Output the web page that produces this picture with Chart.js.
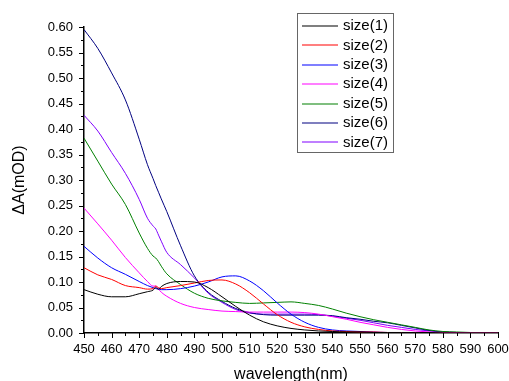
<!DOCTYPE html>
<html>
<head>
<meta charset="utf-8">
<script src="https://cdn.jsdelivr.net/npm/chart.js@4/dist/chart.umd.min.js"></script>
<style>
  html, body { margin: 0; padding: 0; background: #fff; }
  #wrap { width: 509px; height: 381px; }
</style>
</head>
<body>
<div id="wrap"><canvas id="specChart" width="509" height="381"></canvas></div>
<script>
// wavelength (nm)
const wavelengths = [450, 455, 460, 465, 470, 473, 475, 476, 477, 478, 480, 485, 490, 495, 500, 505, 510, 515, 520, 525, 530, 535, 540, 545, 550, 555, 560, 565, 570, 575, 580, 585, 590, 595, 600];

const size1 = [0.085, 0.076, 0.071, 0.071, 0.077, 0.081, 0.084, 0.089, 0.086, 0.091, 0.097, 0.101, 0.100, 0.089, 0.071, 0.052, 0.035, 0.022, 0.014, 0.009, 0.006, 0.004, 0.003, 0.002, 0.002, 0.001, 0.001, 0.001, 0.001, 0.001, 0.000, 0.000, 0.000, 0.000, 0.000];
const size2 = [0.128, 0.114, 0.105, 0.093, 0.089, 0.086, 0.087, 0.092, 0.089, 0.087, 0.089, 0.093, 0.098, 0.103, 0.104, 0.096, 0.079, 0.057, 0.036, 0.021, 0.012, 0.007, 0.004, 0.003, 0.002, 0.002, 0.001, 0.001, 0.001, 0.000, 0.000, 0.000, 0.000, 0.000, 0.000];
const size3 = [0.170, 0.147, 0.128, 0.115, 0.101, 0.093, 0.089, 0.087, 0.086, 0.085, 0.085, 0.087, 0.092, 0.100, 0.110, 0.112, 0.102, 0.083, 0.059, 0.037, 0.021, 0.011, 0.006, 0.004, 0.003, 0.002, 0.001, 0.001, 0.001, 0.000, 0.000, 0.000, 0.000, 0.000, 0.000];
const size4 = [0.245, 0.214, 0.182, 0.148, 0.118, 0.101, 0.092, 0.092, 0.086, 0.080, 0.072, 0.058, 0.050, 0.046, 0.043, 0.042, 0.041, 0.041, 0.041, 0.041, 0.040, 0.037, 0.032, 0.027, 0.021, 0.016, 0.011, 0.007, 0.004, 0.002, 0.001, 0.001, 0.000, 0.000, 0.000];
const size5 = [0.382, 0.337, 0.292, 0.252, 0.196, 0.166, 0.151, 0.147, 0.140, 0.131, 0.116, 0.095, 0.078, 0.068, 0.063, 0.060, 0.058, 0.059, 0.060, 0.061, 0.058, 0.054, 0.047, 0.039, 0.032, 0.026, 0.021, 0.016, 0.011, 0.006, 0.003, 0.002, 0.001, 0.000, 0.000];
const size6 = [0.595, 0.558, 0.510, 0.457, 0.380, 0.330, 0.303, 0.289, 0.276, 0.263, 0.238, 0.171, 0.112, 0.080, 0.062, 0.048, 0.040, 0.036, 0.035, 0.035, 0.035, 0.035, 0.034, 0.030, 0.027, 0.023, 0.020, 0.015, 0.010, 0.005, 0.002, 0.001, 0.001, 0.000, 0.000];
const size7 = [0.427, 0.396, 0.354, 0.313, 0.262, 0.225, 0.210, 0.204, 0.192, 0.180, 0.158, 0.134, 0.108, 0.078, 0.060, 0.046, 0.039, 0.037, 0.037, 0.037, 0.037, 0.036, 0.033, 0.029, 0.025, 0.020, 0.015, 0.011, 0.007, 0.004, 0.002, 0.001, 0.000, 0.000, 0.000];

const seriesNames = ['size(1)', 'size(2)', 'size(3)', 'size(4)', 'size(5)', 'size(6)', 'size(7)'];
const seriesColors = ['#000000', '#ff0000', '#0000ff', '#ff00ff', '#008000', '#000080', '#8000ff'];
const seriesValues = [size1, size2, size3, size4, size5, size6, size7];

const FONT = '"Liberation Sans", Arial, sans-serif';

// origin-style ticks: major + minor, drawn outward
const tickPlugin = {
    id: 'originTicks',
    afterDraw(chart) {
        const ctx = chart.ctx;
        const xs = chart.scales.x, ys = chart.scales.y;
        ctx.save();
        ctx.strokeStyle = '#000';
        ctx.lineWidth = 1;
        ctx.beginPath();
        xs.ticks.forEach((t, i) => {
            const px = Math.round(xs.getPixelForValue(t.value)) + 0.5;
            const len = i % 2 === 0 ? 5 : 3;
            ctx.moveTo(px, ys.bottom);
            ctx.lineTo(px, ys.bottom + len);
        });
        ys.ticks.forEach((t, i) => {
            const py = Math.round(ys.getPixelForValue(t.value)) + 0.5;
            const len = i % 2 === 0 ? 5 : 3;
            ctx.moveTo(xs.left, py);
            ctx.lineTo(xs.left - len, py);
        });
        ctx.stroke();
        ctx.restore();
    }
};

// legend box drawn in the upper right, like the original
const legendPlugin = {
    id: 'boxLegend',
    afterDraw(chart) {
        const ctx = chart.ctx;
        const x0 = 297, y0 = 13, w = 96, h = 139;
        ctx.save();
        ctx.fillStyle = '#fff';
        ctx.fillRect(x0, y0, w, h);
        ctx.strokeStyle = '#666';
        ctx.lineWidth = 1;
        ctx.strokeRect(x0 + 0.5, y0 + 0.5, w, h);
        ctx.font = '15px ' + FONT;
        ctx.textBaseline = 'middle';
        chart.data.datasets.forEach((ds, i) => {
            const cy = y0 + 13 + i * 19.4;
            ctx.strokeStyle = seriesColors[i];
            ctx.lineWidth = 1.2;
            ctx.beginPath();
            ctx.moveTo(x0 + 5, Math.round(cy));
            ctx.lineTo(x0 + 41, Math.round(cy));
            ctx.stroke();
            ctx.fillStyle = '#000';
            ctx.fillText(ds.label, x0 + 46, cy);
        });
        ctx.restore();
    }
};

const ctx = document.getElementById('specChart').getContext('2d');
new Chart(ctx, {
    type: 'line',
    data: {
        labels: wavelengths,
        datasets: seriesValues.map((vals, i) => ({
            label: seriesNames[i],
            data: wavelengths.map((w, j) => ({ x: w, y: vals[j] })),
            borderColor: seriesColors[i],
            borderWidth: 1,
            pointRadius: 0,
            fill: false,
            cubicInterpolationMode: 'monotone'
        }))
    },
    options: {
        responsive: false,
        animation: false,
        layout: { padding: { top: 27, right: 0, left: 0, bottom: 0 } },
        plugins: {
            legend: { display: false },
            tooltip: { enabled: false }
        },
        scales: {
            x: {
                type: 'linear',
                min: 450,
                max: 600,
                afterFit: s => { s.height = 48; s.paddingRight = 11; },
                grid: { display: false, drawTicks: false },
                border: { display: true, color: '#000', width: 1.5 },
                ticks: {
                    stepSize: 5,
                    autoSkip: false,
                    maxRotation: 0,
                    padding: 9,
                    color: '#000',
                    font: { family: FONT, size: 13 },
                    callback: (v, i) => (i % 2 === 0 ? String(v) : '')
                },
                title: {
                    display: true,
                    text: 'wavelength(nm)',
                    color: '#000',
                    font: { family: FONT, size: 16 },
                    padding: { top: 0, bottom: -3 }
                }
            },
            y: {
                min: 0,
                max: 0.6,
                afterFit: s => { s.width = 84; },
                grid: { display: false, drawTicks: false },
                border: { display: true, color: '#000', width: 1.5 },
                ticks: {
                    stepSize: 0.025,
                    autoSkip: false,
                    padding: 11,
                    color: '#000',
                    font: { family: FONT, size: 13 },
                    callback: (v, i) => (i % 2 === 0 ? v.toFixed(2) : '')
                },
                title: {
                    display: true,
                    text: 'ΔA(mOD)',
                    color: '#000',
                    font: { family: FONT, size: 16 },
                    padding: { top: 10, bottom: 0 }
                }
            }
        }
    },
    plugins: [tickPlugin, legendPlugin]
});
</script>
</body>
</html>
